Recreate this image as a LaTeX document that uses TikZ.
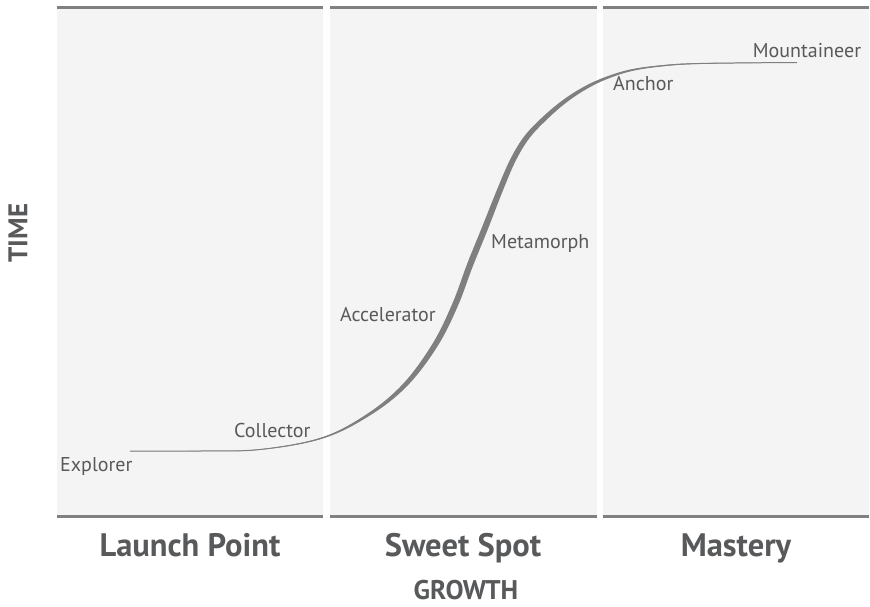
\documentclass[tikz,border=0pt]{standalone}
\usepackage{fontspec}
\setmainfont{PT Sans}
\usetikzlibrary{positioning}
\definecolor{PanelGray}{HTML}{F4F4F4}
\definecolor{RuleGray}{HTML}{808080}
\definecolor{CurveGray}{HTML}{7E7F81}
\definecolor{TextGray}{HTML}{58595B}

\begin{document}
\begin{tikzpicture}[x=1pt,y=-1pt,
    stage/.style={font=\fontsize{20}{20}\selectfont,text=TextGray,inner sep=0pt,anchor=base west},
    zone/.style={font=\bfseries\fontsize{32.5}{32.5}\selectfont,text=TextGray,inner sep=0pt,anchor=base},
    axislabel/.style={font=\bfseries\fontsize{27}{27}\selectfont,text=TextGray,inner sep=0pt}]
  \useasboundingbox (0,0) rectangle (870,606);
  % three panels
  \foreach \l/\r in {56.5/323, 329.5/597, 602.5/869}{
    \fill[PanelGray] (\l,7) rectangle (\r,516);
    \draw[RuleGray,line width=3pt] (\l,7) -- (\r,7);
    \draw[RuleGray,line width=3pt] (\l,516) -- (\r,516);
  }
  % growth curve
  \draw[CurveGray,line width=1pt]
    plot[smooth,tension=0.6] coordinates
    {(130,451) (200,451) (260,449.5) (322,438) (368,415) (405,385) (435,345)
     (455,305) (470,265) (485,228) (500,190) (513,160) (527,137) (545,118)
     (565,101) (585,88) (605,78.5) (630,70.5) (660,66) (700,63.5) (797,62.5)};
  \fill[CurveGray]
    plot[smooth,tension=0.6] coordinates
    {(130,451) (199.84,450.88) (259.68,449.26) (321.36,437.52) (366.8,414.1)
     (403.2,383.65) (432.76,343.32) (452.52,303.14) (467.44,263.08)
     (482.44,226.08) (497.6,188.2) (510.76,158.32) (524.92,135.44)
     (543.08,116.56) (563.32,99.74) (583.56,86.92) (603.8,77.6)
     (629.04,69.78) (659.28,65.46) (699.52,63.14) (797,62.5)}
    -- plot[smooth,tension=0.6] coordinates
    {(797,62.5) (700.48,63.86) (660.72,66.54) (630.96,71.22) (606.2,79.4)
     (586.44,89.08) (566.68,102.26) (546.92,119.44) (529.08,138.56)
     (515.24,161.68) (502.4,191.8) (487.56,229.92) (472.56,266.92)
     (457.48,306.86) (437.24,346.68) (406.8,386.35) (369.2,415.9)
     (322.64,438.48) (260.32,449.74) (200.16,451.12) (130,451)}
    -- cycle;
  % stages along the curve
  \node[stage] (explorer) at (60,471) {Explorer};
  \node[stage] (collector) at (234,437) {Collector};
  \node[stage] (accelerator) at (340,321.5) {Accelerator};
  \node[stage] (metamorph) at (491,248.3) {Metamorph};
  \node[stage] (anchor) at (613,90.7) {Anchor};
  \node[stage] (mountaineer) at (752.7,57.3) {Mountaineer};
  % zones and axes
  \node[zone] (launch) at (190,556) {Launch Point};
  \node[zone] (sweet) at (463,556) {Sweet Spot};
  \node[zone] (mastery) at (736,556) {Mastery};
  \node[axislabel] (growth) at (466,590) {GROWTH};
  \node[axislabel,rotate=90] (time) at (18,233) {TIME};
\end{tikzpicture}
\end{document}
